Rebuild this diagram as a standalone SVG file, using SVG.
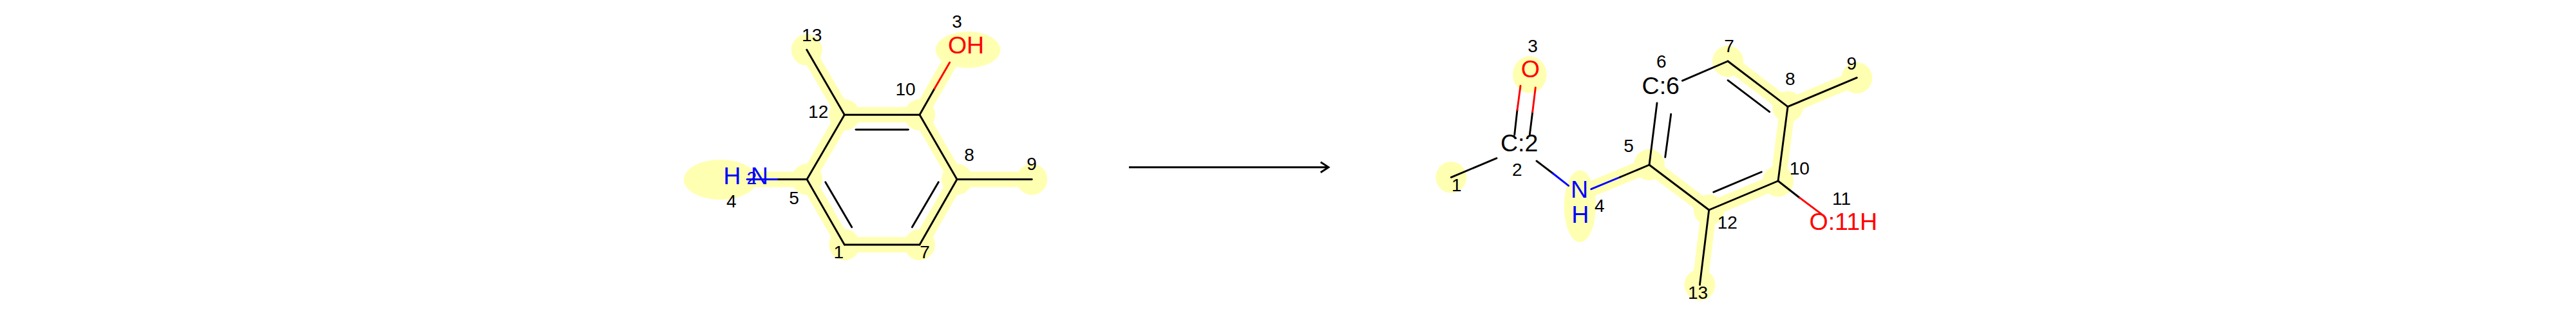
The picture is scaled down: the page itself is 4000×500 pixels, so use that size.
<svg xmlns="http://www.w3.org/2000/svg" width="4000" height="500" viewBox="0 0 4000 500">
<style>
text{font-family:"Liberation Sans",Arial,sans-serif;text-anchor:middle;fill:#000}
.n{font-size:28px}
.a{font-size:37.5px}
.red{fill:#f00}
.blue{fill:#00f}
.hl{fill:#ffffb2}
.hb line{stroke:#ffffb2;stroke-width:24;stroke-linecap:butt}
.b line{stroke:#000;stroke-width:2.9;stroke-linecap:round}
.b line.r{stroke:#f00}
.b line.bl{stroke:#00f}
.arrow{stroke:#000;stroke-width:2.9;fill:none}
</style>
<rect width="4000" height="500" fill="#fff"/>
<g id="highlight-bonds" class="hb">
<line x1="1311.3" y1="178.3" x2="1428" y2="178.3"/>
<line x1="1428" y1="178.3" x2="1486" y2="278.5"/>
<line x1="1486" y1="278.5" x2="1428" y2="380"/>
<line x1="1428" y1="380" x2="1311.3" y2="380"/>
<line x1="1311.3" y1="380" x2="1253" y2="278.5"/>
<line x1="1253" y1="278.5" x2="1311.3" y2="178.3"/>
<line x1="1311.3" y1="178.3" x2="1252.7" y2="77.3"/>
<line x1="1428" y1="178.3" x2="1486" y2="77.3"/>
<line x1="1486" y1="278.5" x2="1602.3" y2="278.5"/>
<line x1="1253" y1="278.5" x2="1118.7" y2="278.5"/>
<line x1="2683" y1="95" x2="2776" y2="165.7"/>
<line x1="2776" y1="165.7" x2="2883.3" y2="120.7"/>
<line x1="2776" y1="165.7" x2="2761" y2="281"/>
<line x1="2761" y1="281" x2="2653.7" y2="326"/>
<line x1="2653.7" y1="326" x2="2639.4" y2="442.3"/>
<line x1="2653.7" y1="326" x2="2561" y2="256"/>
<line x1="2561" y1="256" x2="2453" y2="301"/>
</g>
<g id="reactant">
<g id="r-atom-1"><ellipse class="hl" cx="1311.3" cy="380" rx="24" ry="24.2"/><text class="n" x="1302.3" y="400.7">1</text></g>
<g id="r-atom-2-4"><ellipse class="hl" cx="1118.7" cy="279" rx="57" ry="31"/><text class="a blue" x="1136.7" y="285.7">H</text><text class="n blue" x="1167.3" y="285.7">2</text><text class="a blue" x="1179.2" y="285.7">N</text><text class="n" x="1135.7" y="321.7">4</text></g>
<g id="r-atom-3"><ellipse class="hl" cx="1503" cy="77.3" rx="50.3" ry="28.3"/><text class="a red" x="1500" y="82.7">OH</text><text class="n" x="1486" y="42.7">3</text></g>
<g id="r-atom-5"><ellipse class="hl" cx="1253" cy="278.5" rx="24" ry="24.2"/><text class="n" x="1233" y="316.7">5</text></g>
<g id="r-atom-7"><ellipse class="hl" cx="1428" cy="380" rx="24" ry="24.2"/><text class="n" x="1436" y="400.7">7</text></g>
<g id="r-atom-8"><ellipse class="hl" cx="1486" cy="278.5" rx="24" ry="24.2"/><text class="n" x="1505" y="250">8</text></g>
<g id="r-atom-9"><ellipse class="hl" cx="1602.3" cy="278.5" rx="24" ry="24.2"/><text class="n" x="1602" y="264">9</text></g>
<g id="r-atom-10"><ellipse class="hl" cx="1428" cy="178.3" rx="24" ry="24.2"/><text class="n" x="1406" y="148.3">10</text></g>
<g id="r-atom-12"><ellipse class="hl" cx="1311.3" cy="178.3" rx="24" ry="24.2"/><text class="n" x="1270.7" y="182.7">12</text></g>
<g id="r-atom-13"><ellipse class="hl" cx="1252.7" cy="77.3" rx="24" ry="24.2"/><text class="n" x="1260.7" y="64.3">13</text></g>
</g>
<g id="product">
<g id="p-atom-1"><ellipse class="hl" cx="2253.3" cy="275.3" rx="24" ry="24.2"/><text class="n" x="2261.8" y="297.3">1</text></g>
<g id="p-atom-2"><text class="a" x="2359.2" y="235.3">C:2</text><text class="n" x="2355.7" y="272.7">2</text></g>
<g id="p-atom-3"><ellipse class="hl" cx="2375.3" cy="115.8" rx="26.3" ry="28.5"/><text class="a red" x="2376.3" y="120.3">O</text><text class="n" x="2380" y="80.7">3</text></g>
<g id="p-atom-4"><ellipse class="hl" cx="2453.3" cy="320.3" rx="24.7" ry="55.7"/><text class="a blue" x="2452.5" y="306.7">N</text><text class="a blue" x="2453.7" y="345.7">H</text><text class="n" x="2483.7" y="329.3">4</text></g>
<g id="p-atom-5"><ellipse class="hl" cx="2561" cy="255.8" rx="24" ry="24.2"/><text class="n" x="2529" y="236">5</text></g>
<g id="p-atom-6"><text class="a" x="2578.8" y="145.5">C:6</text><text class="n" x="2579.7" y="105">6</text></g>
<g id="p-atom-7"><ellipse class="hl" cx="2683" cy="95.2" rx="24" ry="24.2"/><text class="n" x="2685" y="80.7">7</text></g>
<g id="p-atom-8"><ellipse class="hl" cx="2776" cy="165.7" rx="24" ry="24.2"/><text class="n" x="2779.8" y="131.7">8</text></g>
<g id="p-atom-9"><ellipse class="hl" cx="2883.3" cy="121" rx="24" ry="24.2"/><text class="n" x="2875.3" y="107.7">9</text></g>
<g id="p-atom-10"><ellipse class="hl" cx="2761" cy="281.3" rx="24" ry="24.2"/><text class="n" x="2794.3" y="270.7">10</text></g>
<g id="p-atom-11"><text class="a red" x="2862.3" y="356.7">O:11H</text><text class="n" x="2859.6" y="317.7">11</text></g>
<g id="p-atom-12"><ellipse class="hl" cx="2653.7" cy="326" rx="24" ry="24.2"/><text class="n" x="2682.3" y="355">12</text></g>
<g id="p-atom-13"><ellipse class="hl" cx="2639.4" cy="442.3" rx="24" ry="24.2"/><text class="n" x="2636.6" y="464.3">13</text></g>
</g>
<g id="connectors" class="b">
<line x1="1311.3" y1="178.3" x2="1428" y2="178.3"/>
<line x1="1329" y1="201.3" x2="1410.3" y2="201.3"/>
<line x1="1428" y1="178.3" x2="1486" y2="278.5"/>
<line x1="1486" y1="278.5" x2="1428" y2="380"/>
<line x1="1457.3" y1="282.7" x2="1416.3" y2="352.7"/>
<line x1="1428" y1="380" x2="1311.3" y2="380"/>
<line x1="1311.3" y1="380" x2="1253" y2="278.5"/>
<line x1="1281.7" y1="282.7" x2="1322.7" y2="352.7"/>
<line x1="1253" y1="278.5" x2="1311.3" y2="178.3"/>
<line x1="1311.3" y1="178.3" x2="1252.7" y2="77.3"/>
<line x1="1428" y1="178.3" x2="1451" y2="137.7"/>
<line class="r" x1="1451" y1="137.7" x2="1474.7" y2="97"/>
<line x1="1486" y1="278.5" x2="1602.3" y2="278.5"/>
<line x1="1253" y1="278.5" x2="1206.7" y2="278.5"/>
<line class="bl" x1="1206.7" y1="278.5" x2="1160" y2="278.5"/>
<line x1="2253.3" y1="275.3" x2="2324" y2="245.7"/>
<line x1="2351.7" y1="209.3" x2="2356" y2="170.7"/>
<line class="r" x1="2356" y1="170.7" x2="2361" y2="133.3"/>
<line x1="2375.3" y1="209.3" x2="2379.7" y2="174"/>
<line class="r" x1="2379.7" y1="174" x2="2384.3" y2="136"/>
<line x1="2386" y1="250" x2="2411" y2="269"/>
<line class="bl" x1="2411" y1="269" x2="2435.7" y2="288.3"/>
<line class="bl" x1="2470.7" y1="293.7" x2="2515.7" y2="275"/>
<line x1="2515.7" y1="275" x2="2561" y2="256"/>
<line x1="2561" y1="256" x2="2573" y2="160"/>
<line x1="2585.7" y1="244" x2="2594.7" y2="177.3"/>
<line x1="2612.3" y1="125.3" x2="2683" y2="95"/>
<line x1="2683" y1="95" x2="2776" y2="165.7"/>
<line x1="2683" y1="124.7" x2="2747.7" y2="173.7"/>
<line x1="2776" y1="165.7" x2="2883.3" y2="120.7"/>
<line x1="2776" y1="165.7" x2="2761" y2="281"/>
<line x1="2761" y1="281" x2="2653.7" y2="326"/>
<line x1="2735.3" y1="267" x2="2660.7" y2="298.3"/>
<line x1="2761" y1="281" x2="2794.3" y2="307"/>
<line class="r" x1="2794.3" y1="307" x2="2828.3" y2="332.3"/>
<line x1="2653.7" y1="326" x2="2639.4" y2="442.3"/>
<line x1="2653.7" y1="326" x2="2561" y2="256"/>
<path class="arrow" d="M1753 259.7H2063M2050.7 251.7L2063 259.7L2050.7 267.7"/>
</g>
</svg>
